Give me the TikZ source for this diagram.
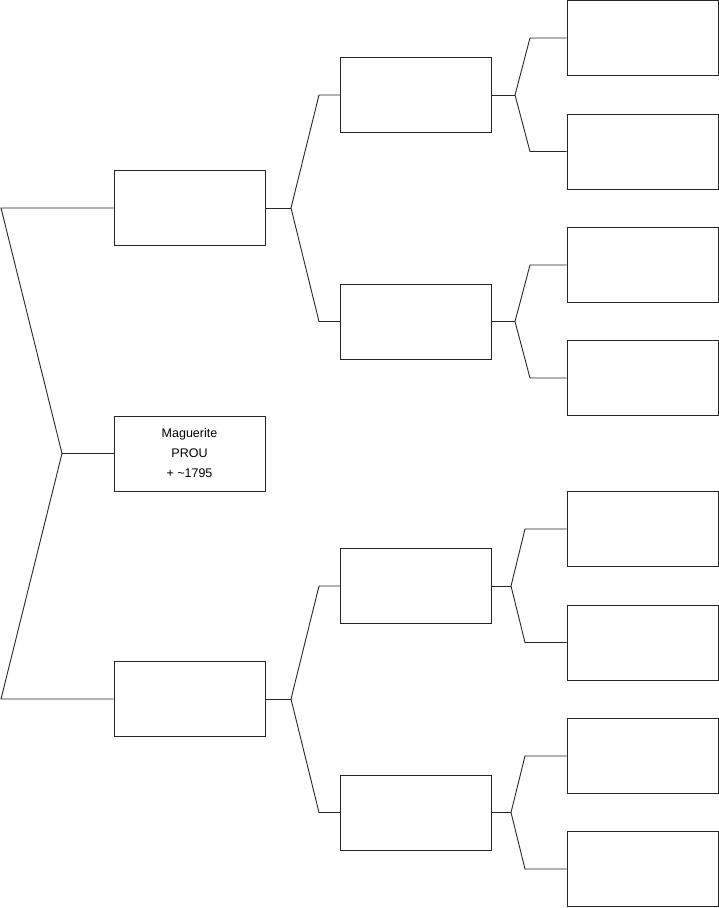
\documentclass[tikz,border=0pt]{standalone}
\usepackage{fontspec}
\setmainfont{Liberation Sans}
\begin{document}
\begin{tikzpicture}[x=1pt,y=-1pt,
  person/.style={draw=black!85,line width=0.9pt,minimum width=151pt,minimum height=75pt,inner sep=0pt,align=center,font=\fontsize{12.5}{20}\selectfont},
  link/.style={draw=black!85,line width=0.9pt}]
\useasboundingbox (0,0) rectangle (719,908);
% level 1
\node[person] (p1) at (189.5,453.5) {Maguerite\\PROU\\+ \char`\~1795};
% level 2
\node[person] (p2) at (189.5,208) {};
\node[person] (p3) at (189.5,699) {};
% level 3
\node[person] (p4) at (416,95) {};
\node[person] (p5) at (416,321.5) {};
\node[person] (p6) at (416,586) {};
\node[person] (p7) at (416,812.5) {};
% level 4
\node[person] (p8) at (642.5,38) {};
\node[person] (p9) at (642.5,151.5) {};
\node[person] (p10) at (642.5,265) {};
\node[person] (p11) at (642.5,378) {};
\node[person] (p12) at (642.5,529) {};
\node[person] (p13) at (642.5,642.5) {};
\node[person] (p14) at (642.5,756) {};
\node[person] (p15) at (642.5,869) {};
% fork points
\coordinate (f1) at (62,453.5);
\coordinate (a2) at (1,208);
\coordinate (a3) at (1,699);
\coordinate (f2) at (291,208);
\coordinate (a4) at (319,95);
\coordinate (a5) at (319,321.5);
\coordinate (f3) at (291,699);
\coordinate (a6) at (319,586);
\coordinate (a7) at (319,812.5);
\coordinate (f4) at (515,95);
\coordinate (a8) at (530,38);
\coordinate (a9) at (530,151.5);
\coordinate (f5) at (515,321.5);
\coordinate (a10) at (530,265);
\coordinate (a11) at (530,378);
\coordinate (f6) at (511,586);
\coordinate (a12) at (525,529);
\coordinate (a13) at (525,642.5);
\coordinate (f7) at (511,812.5);
\coordinate (a14) at (525,756);
\coordinate (a15) at (525,869);
% connectors
\draw[link] (p1.west) -- (f1);
\draw[link] (f1) -- (a2) -- (p2.west);
\draw[link] (f1) -- (a3) -- (p3.west);
\draw[link] (p2.east) -- (f2);
\draw[link] (f2) -- (a4) -- (p4.west);
\draw[link] (f2) -- (a5) -- (p5.west);
\draw[link] (p3.east) -- (f3);
\draw[link] (f3) -- (a6) -- (p6.west);
\draw[link] (f3) -- (a7) -- (p7.west);
\draw[link] (p4.east) -- (f4);
\draw[link] (f4) -- (a8) -- (p8.west);
\draw[link] (f4) -- (a9) -- (p9.west);
\draw[link] (p5.east) -- (f5);
\draw[link] (f5) -- (a10) -- (p10.west);
\draw[link] (f5) -- (a11) -- (p11.west);
\draw[link] (p6.east) -- (f6);
\draw[link] (f6) -- (a12) -- (p12.west);
\draw[link] (f6) -- (a13) -- (p13.west);
\draw[link] (p7.east) -- (f7);
\draw[link] (f7) -- (a14) -- (p14.west);
\draw[link] (f7) -- (a15) -- (p15.west);
\end{tikzpicture}
\end{document}
